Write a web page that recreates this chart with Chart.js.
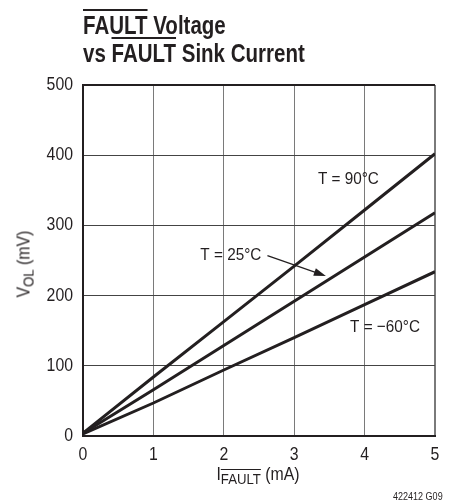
<!DOCTYPE html>
<html>
<head>
<meta charset="utf-8">
<script src="https://cdn.jsdelivr.net/npm/chart.js@4"></script>
<style>
  html, body { margin: 0; padding: 0; background: #fff; }
  body { width: 460px; height: 504px; position: relative; overflow: hidden;
         font-family: "Liberation Sans", Arial, sans-serif; color: #231f20; }
  #wrap { position: absolute; left: 0; top: 0; width: 460px; height: 504px; }
  .ol { text-decoration: overline; text-decoration-thickness: 2px; }
  #title { position: absolute; left: 83px; top: 11px; font-weight: bold; font-size: 25px; line-height: 28px;
           white-space: nowrap; transform: scaleX(0.82); transform-origin: 0 0; }
  #xtitle { position: absolute; left: 258px; top: 464px; font-size: 18px; white-space: nowrap;
            transform: translateX(-50%) scaleX(0.88); }
  #xtitle sub { font-size: 15px; vertical-align: -4px; text-decoration: overline; text-decoration-thickness: 1px; }
  #ytitle { position: absolute; left: 25px; top: 264px; transform: translate(-50%, -50%) rotate(-90deg) scaleX(0.88);
            font-size: 18px; white-space: nowrap; }
  #ytitle sub { font-size: 15px; vertical-align: -4px; }
  #note { position: absolute; left: 393px; top: 490px; font-size: 11px; white-space: nowrap;
          transform: scaleX(0.82); transform-origin: 0 0; }
</style>
</head>
<body>
<div id="wrap"><canvas id="myChart" width="460" height="504"></canvas></div>
<div id="title"><span class="ol">FAULT</span> Voltage<br>vs <span class="ol">FAULT</span> Sink Current</div>
<div id="ytitle">V<sub>OL</sub> (mV)</div>
<div id="xtitle">I<sub>FAULT</sub> (mA)</div>
<div id="note">422412 G09</div>
<script>
// values
const current = [0, 1, 2, 3, 4, 5]            // mA
const v90 = [4, 84, 163, 242, 322, 402]       // mV, T = 90°C
const v25 = [4, 66, 129, 192, 255, 318]       // mV, T = 25°C
const vm60 = [3, 47, 94, 140, 187, 234]       // mV, T = -60°C
const xTicks = [0, 1, 2, 3, 4, 5]
const yTicks = [0, 100, 200, 300, 400, 500]

const FONT = '"Liberation Sans", Arial, sans-serif'
const INK = "#231f20"

function pts(ys) {
  return current.map((x, i) => ({ x: x, y: ys[i] }))
}

// the original uses a condensed face, so squeeze the text horizontally
function narrowText(ctx, text, x, y, size, sx, align) {
  ctx.save()
  ctx.font = size + "px " + FONT
  ctx.textAlign = align
  ctx.textBaseline = "middle"
  ctx.scale(sx, 1)
  ctx.fillText(text, x / sx, y)
  ctx.restore()
}

const narrowTicks = {
  id: "narrowTicks",
  afterDraw(chart) {
    const { ctx, chartArea, scales: { x, y } } = chart
    ctx.save()
    ctx.fillStyle = INK
    x.ticks.forEach((t) => narrowText(ctx, String(t.value), x.getPixelForValue(t.value), chartArea.bottom + 19, 18, 0.88, "center"))
    y.ticks.forEach((t) => narrowText(ctx, String(t.value), chartArea.left - 10, y.getPixelForValue(t.value), 18, 0.88, "right"))
    ctx.restore()
  }
}

// curve labels + the 25°C arrow, placed in data units
const curveLabels = {
  id: "curveLabels",
  afterDatasetsDraw(chart) {
    const { ctx, scales: { x, y } } = chart
    ctx.save()
    ctx.fillStyle = INK
    narrowText(ctx, "T = 90°C", x.getPixelForValue(3.77), y.getPixelForValue(366), 17, 0.9, "center")
    narrowText(ctx, "T = 25°C", x.getPixelForValue(2.1), y.getPixelForValue(257), 17, 0.9, "center")
    narrowText(ctx, "T = \u221260°C", x.getPixelForValue(4.29), y.getPixelForValue(155), 17, 0.9, "center")

    const x0 = x.getPixelForValue(2.62), y0 = y.getPixelForValue(257)
    const x1 = x.getPixelForValue(3.45), y1 = y.getPixelForValue(228)
    const a = Math.atan2(y1 - y0, x1 - x0)
    ctx.strokeStyle = INK
    ctx.lineWidth = 1.2
    ctx.beginPath()
    ctx.moveTo(x0, y0)
    ctx.lineTo(x1 - 8 * Math.cos(a), y1 - 8 * Math.sin(a))
    ctx.stroke()
    ctx.beginPath()
    ctx.moveTo(x1, y1)
    ctx.lineTo(x1 - 12 * Math.cos(a) + 4 * Math.sin(a), y1 - 12 * Math.sin(a) - 4 * Math.cos(a))
    ctx.lineTo(x1 - 12 * Math.cos(a) - 4 * Math.sin(a), y1 - 12 * Math.sin(a) + 4 * Math.cos(a))
    ctx.closePath()
    ctx.fill()
    ctx.restore()
  }
}

const lineStyle = { borderColor: INK, borderWidth: 3, pointRadius: 0, tension: 0, fill: false }

new Chart(document.getElementById("myChart"), {
  type: "line",
  data: {
    datasets: [
      { label: "T = 90°C", data: pts(v90), ...lineStyle },
      { label: "T = 25°C", data: pts(v25), ...lineStyle },
      { label: "T = -60°C", data: pts(vm60), ...lineStyle }
    ]
  },
  options: {
    responsive: false,
    animation: false,
    layout: { padding: { left: 0, top: 85, right: 25, bottom: 38 } },
    plugins: { legend: { display: false }, tooltip: { enabled: false } },
    scales: {
      x: {
        type: "linear",
        min: 0,
        max: 5,
        afterBuildTicks: (s) => { s.ticks = xTicks.map((v) => ({ value: v })) },
        afterFit: (s) => { s.height = 30 },
        grid: {
          color: "#7a7a7a",
          lineWidth: (c) => (c.tick && c.tick.value === 5 ? 2 : 1),
          drawTicks: false
        },
        border: { color: INK, width: 2 },
        ticks: { display: false }
      },
      y: {
        min: 0,
        max: 500,
        afterBuildTicks: (s) => { s.ticks = yTicks.map((v) => ({ value: v })) },
        afterFit: (s) => { s.width = 83 },
        grid: {
          color: (c) => (c.tick && c.tick.value === 500 ? INK : "#444"),
          lineWidth: (c) => (c.tick && c.tick.value === 500 ? 2 : 1),
          drawTicks: false
        },
        border: { color: INK, width: 2 },
        ticks: { display: false }
      }
    }
  },
  plugins: [curveLabels, narrowTicks]
})
</script>
</body>
</html>
